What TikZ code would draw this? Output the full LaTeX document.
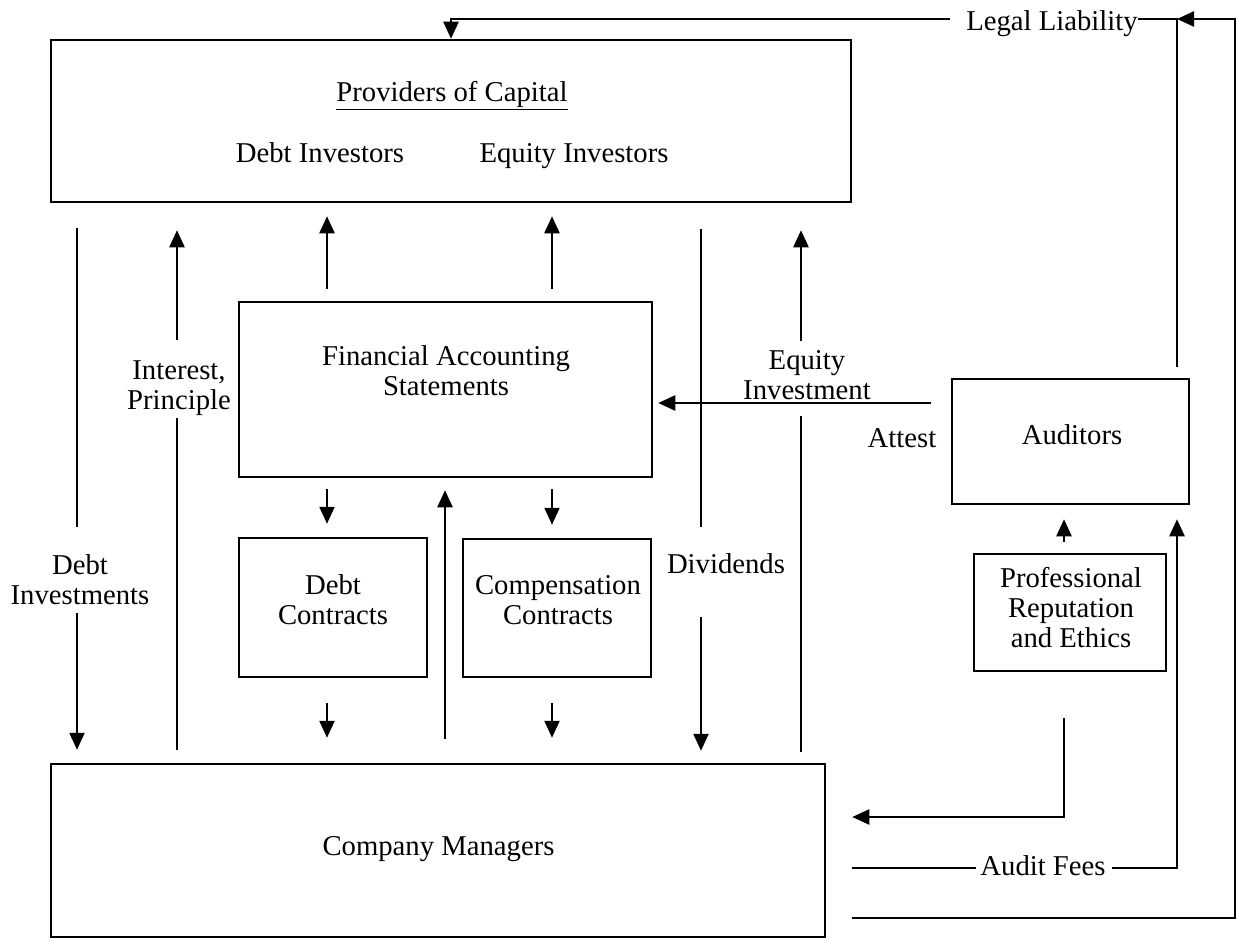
\documentclass[tikz,border=0pt]{standalone}
\usepackage{fontspec}
\setmainfont{Liberation Serif}
\usetikzlibrary{arrows.meta}

\tikzset{
    box/.style={draw, line width=2.5pt, inner sep=0pt},
    txt/.style={align=center, inner sep=0pt},
    wire/.style={line width=2.4pt},
    flow/.style={wire, -{Triangle[length=17pt,width=15pt]}}
}

\begin{document}
\begin{tikzpicture}[%
    x=1pt, y=-1pt,
    font=\fontsize{28.7}{30}\selectfont]
    \useasboundingbox (0,0) rectangle (1237,939);

    \coordinate (xDebt) at (77,0);
    \coordinate (xInt) at (177,0);
    \coordinate (xLeft) at (327,0);
    \coordinate (xMid) at (445,0);
    \coordinate (xRight) at (552,0);
    \coordinate (xDiv) at (701,0);
    \coordinate (xEq) at (801,0);
    \coordinate (xRep) at (1064,0);
    \coordinate (xFee) at (1177,0);
    \coordinate (xOut) at (1235,0);
    \coordinate (yTop) at (0,19);
    \coordinate (yAtt) at (0,403);
    \coordinate (yRep) at (0,817);
    \coordinate (yFee) at (0,868);
    \coordinate (yBot) at (0,918);

    % boxes
    \node[box, minimum width=800pt, minimum height=162pt] (prov) at (451,121) {};
    \node[box, minimum width=413pt, minimum height=175pt] (fas) at (445.5,389.5) {};
    \node[box, minimum width=188pt, minimum height=139pt] (debt) at (333,607.5) {};
    \node[box, minimum width=188pt, minimum height=138pt] (comp) at (557,608) {};
    \node[box, minimum width=774pt, minimum height=173pt] (mgr) at (438,850.5) {};
    \node[box, minimum width=237pt, minimum height=125pt] (aud) at (1070.5,441.5) {};
    \node[box, minimum width=192pt, minimum height=117pt] (prof) at (1070,612.5) {};

    \node[txt, anchor=base] (provT) at (452,101.5) {\underline{Providers of Capital}};
    \node[txt, anchor=base] (debtInv) at (320,162.5) {Debt Investors};
    \node[txt, anchor=base] (eqInv) at (574,162.5) {Equity Investors};
    \node[txt] (fasT) at (446,370.5) {Financial Accounting\\Statements};
    \node[txt] (debtT) at (333,600) {Debt\\Contracts};
    \node[txt] (compT) at (558,600) {Compensation\\Contracts};
    \node[txt, anchor=base] (mgrT) at (438.5,855) {Company Managers};
    \node[txt, anchor=base] (audT) at (1072,444) {Auditors};
    \node[txt] (profT) at (1071,607.7) {Professional\\Reputation\\and Ethics};

    % flow labels
    \node[txt] (dinv) at (80,580) {Debt\\Investments};
    \node[txt] (intp) at (179,388) {Interest,\\Principle};
    \node[txt] (eqinv) at (807,375) {Equity\\Investment};
    \node[txt, anchor=base] (div) at (726,573) {Dividends};
    \node[txt, anchor=base] (attest) at (902,447) {Attest};
    \node[txt, anchor=base] (fees) at (1043,875) {Audit Fees};
    \node[txt, anchor=base] (legal) at (1052,31) {Legal Liability};

    % capital flows
    \draw[wire, shorten <=25pt, shorten >=28pt] (prov.south -| xDebt) -- (dinv.north -| xDebt);
    \draw[flow, shorten <=8pt, shorten >=13pt] (dinv.south -| xDebt) -- (mgr.north -| xDebt);
    \draw[wire, shorten <=13pt, shorten >=2pt] (mgr.north -| xInt) -- (intp.south -| xInt);
    \draw[flow, shorten <=20pt, shorten >=27pt] (intp.north -| xInt) -- (prov.south -| xInt);
    \draw[wire, shorten <=26pt, shorten >=26pt] (prov.south -| xDiv) -- (div.north -| xDiv);
    \draw[flow, shorten <=44pt, shorten >=12pt] (div.south -| xDiv) -- (mgr.north -| xDiv);
    \draw[wire, shorten <=11pt, shorten >=16pt] (mgr.north -| xEq) -- (eqinv.south -| xEq);
    \draw[flow, shorten <=9pt, shorten >=27pt] (eqinv.north -| xEq) -- (prov.south -| xEq);

    % statements and contracts
    \draw[flow, shorten <=12pt, shorten >=13pt] (fas.north -| xLeft) -- (prov.south -| xLeft);
    \draw[flow, shorten <=12pt, shorten >=13pt] (fas.north -| xRight) -- (prov.south -| xRight);
    \draw[flow, shorten <=11pt, shorten >=13pt] (fas.south -| xLeft) -- (debt.north -| xLeft);
    \draw[flow, shorten <=11pt, shorten >=13pt] (fas.south -| xRight) -- (comp.north -| xRight);
    \draw[flow, shorten <=25pt, shorten >=25pt] (debt.south -| xLeft) -- (mgr.north -| xLeft);
    \draw[flow, shorten <=25pt, shorten >=25pt] (comp.south -| xRight) -- (mgr.north -| xRight);
    \draw[flow, shorten <=24pt, shorten >=12pt] (mgr.north -| xMid) -- (fas.south -| xMid);

    % auditors
    \draw[flow, shorten <=20pt, shorten >=5pt] (aud.west |- yAtt) -- (fas.east |- yAtt);
    \draw[wire, shorten <=11pt] (aud.north -| xFee) -- (xFee |- yTop) -- (legal.east |- yTop);
    \draw[flow, shorten <=16pt] (legal.west |- yTop) -| (prov.north);
    \draw[flow, shorten <=26pt] (mgr.east |- yBot) -| (xOut |- yTop) -- (xFee |- yTop);
    \draw[wire, shorten <=26pt, shorten >=4pt] (mgr.east |- yFee) -- (fees.west |- yFee);
    \draw[flow, shorten <=6pt, shorten >=14pt] (fees.east |- yFee) -| (aud.south -| xFee);
    \draw[flow, shorten <=11pt, shorten >=14pt] (prof.north -| xRep) -- (aud.south -| xRep);
    \draw[flow, shorten <=46pt, shorten >=26pt] (prof.south -| xRep) |- (mgr.east |- yRep);
\end{tikzpicture}
\end{document}
